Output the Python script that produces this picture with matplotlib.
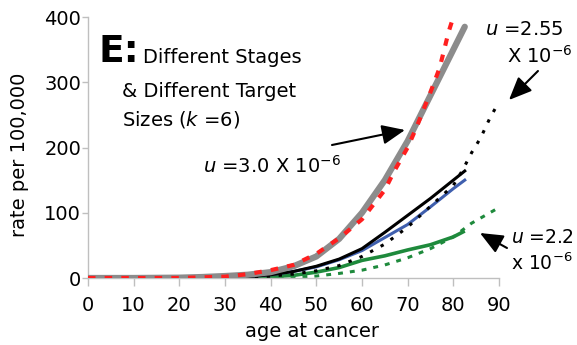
import matplotlib
matplotlib.use("Agg")
import matplotlib.pyplot as plt

plt.rcParams['font.family'] = ['DejaVu Sans']
plt.rcParams['mathtext.fontset'] = 'dejavusans'

# ---- data ----
gray_age = [0, 10, 20, 25, 30, 35, 40, 45, 50, 55, 60, 65, 70, 75, 80, 82.5]
gray_rate = [0, 0, 0.5, 1.5, 3, 5, 9, 18, 33, 60, 100, 150, 210, 280, 350, 385]

red_age = [0, 10, 20, 30, 35, 40, 45, 50, 55, 60, 65, 67, 70, 72, 75, 77, 79, 80]
red_rate = [0, 0, 0, 2, 6, 12, 20, 37, 61, 90, 135, 163, 200, 232, 285, 322, 378, 400]

black_age = [0, 30, 35, 40, 45, 50, 55, 60, 65, 70, 75, 80, 82.5]
black_rate = [0, 1, 2, 5, 10, 18, 29, 45, 70, 96, 122, 150, 164]

blue_age = [0, 30, 35, 40, 45, 50, 55, 60, 65, 70, 75, 80, 82.5]
blue_rate = [0, 1, 2, 5, 10, 17, 28, 42, 62, 82, 109, 137, 150]

blackdot_age = [0, 30, 35, 40, 45, 50, 55, 60, 65, 70, 75, 80, 82, 84, 86, 88, 90]
blackdot_rate = [0, 0, 1, 3, 6, 11, 19, 33, 52, 78, 110, 142, 165, 192, 215, 245, 270]

green_age = [0, 30, 35, 40, 45, 50, 55, 60, 65, 70, 75, 80, 82.5]
green_rate = [0, 0.5, 1, 2, 4, 9, 16, 27, 34, 43, 51, 63, 72]

greendot_age = [0, 40, 45, 50, 55, 60, 65, 70, 75, 80, 84, 87, 90]
greendot_rate = [0, 0, 1, 3, 7, 12, 20, 31, 45, 63, 84, 96, 108]

x_ticks = [0, 10, 20, 30, 40, 50, 60, 70, 80, 90]
y_ticks = [0, 100, 200, 300, 400]

# ---- figure ----
fig = plt.figure(figsize=(5.77, 3.45), dpi=100)
ax = fig.add_axes([88/577, 1 - 278/345, (499-88)/577, (278-17)/345])

ax.plot(green_age, green_rate, color='#1e8a3c', lw=2.6, solid_capstyle='butt', zorder=2)
ax.plot(greendot_age, greendot_rate, color='#1e8a3c', lw=2.2, dashes=(1.6, 2.3), zorder=2)
ax.plot(blue_age, blue_rate, color='#3f5fae', lw=2.2, zorder=3)
ax.plot(black_age, black_rate, color='black', lw=2.2, zorder=3)
ax.plot(blackdot_age, blackdot_rate, color='black', lw=2.2, dashes=(1.1, 2.8), zorder=3)
ax.plot(gray_age, gray_rate, color='#8c8c8c', lw=4.5, solid_capstyle='round', zorder=4)
ax.plot(red_age, red_rate, color='#ff1f1f', lw=3, dashes=(1.8, 2.2), zorder=5)

ax.set_xlim(0, 90)
ax.set_ylim(0, 400)
ax.set_xticks(x_ticks)
ax.set_yticks(y_ticks)
ax.tick_params(axis='x', length=6, width=1, color='#bfbfbf', pad=7, labelsize=14)
ax.tick_params(axis='y', length=4, width=1, color='#bfbfbf', pad=1, labelsize=14)
for s in ['top', 'right']:
    ax.spines[s].set_visible(False)
for s in ['left', 'bottom']:
    ax.spines[s].set_color('#bfbfbf')
    ax.spines[s].set_linewidth(1)

fig.text(312/577, 1 - 337/345, 'age at cancer', ha='center', va='baseline', fontsize=14)
fig.text(20/577, 1 - 155/345, 'rate per 100,000', ha='center', va='center',
         rotation=90, fontsize=14)

# annotation text
def px(xp, yp):
    return ((xp - 88) / 4.567, (278 - yp) / 0.6525)

ax.text(*px(99, 62), 'E:', fontsize=27, fontweight='bold', ha='left', va='baseline', clip_on=False)
ax.text(*px(143, 63), 'Different Stages', fontsize=14, ha='left', va='baseline', clip_on=False)
ax.text(*px(122, 97), '& Different Target', fontsize=14, ha='left', va='baseline', clip_on=False)
ax.text(*px(122, 125), 'Sizes ($k$ =6)', fontsize=14, ha='left', va='baseline', clip_on=False)
ax.text(*px(203, 173), '$u$ =3.0 X 10$^{-6}$', fontsize=14, ha='left', va='baseline', clip_on=False)
ax.text(*px(485, 35), '$u$ =2.55', fontsize=14, ha='left', va='baseline', clip_on=False)
ax.text(*px(507, 63), 'X 10$^{-6}$', fontsize=14, ha='left', va='baseline', clip_on=False)
ax.text(*px(511, 243), '$u$ =2.2', fontsize=13.5, ha='left', va='baseline', clip_on=False)
ax.text(*px(511, 270), 'x 10$^{-6}$', fontsize=13.5, ha='left', va='baseline', clip_on=False)

arrow = dict(arrowstyle='-|>,head_length=1.4,head_width=0.6', color='black', lw=1.5,
             shrinkA=0, shrinkB=0)
ax.annotate('', xy=px(405, 130), xytext=px(332, 145), arrowprops=arrow, annotation_clip=False)
ax.annotate('', xy=px(509, 100), xytext=px(538, 71), arrowprops=arrow, annotation_clip=False)
ax.annotate('', xy=px(480, 233), xytext=px(507, 248), arrowprops=arrow, annotation_clip=False)

fig.savefig('out.png', dpi=100)
